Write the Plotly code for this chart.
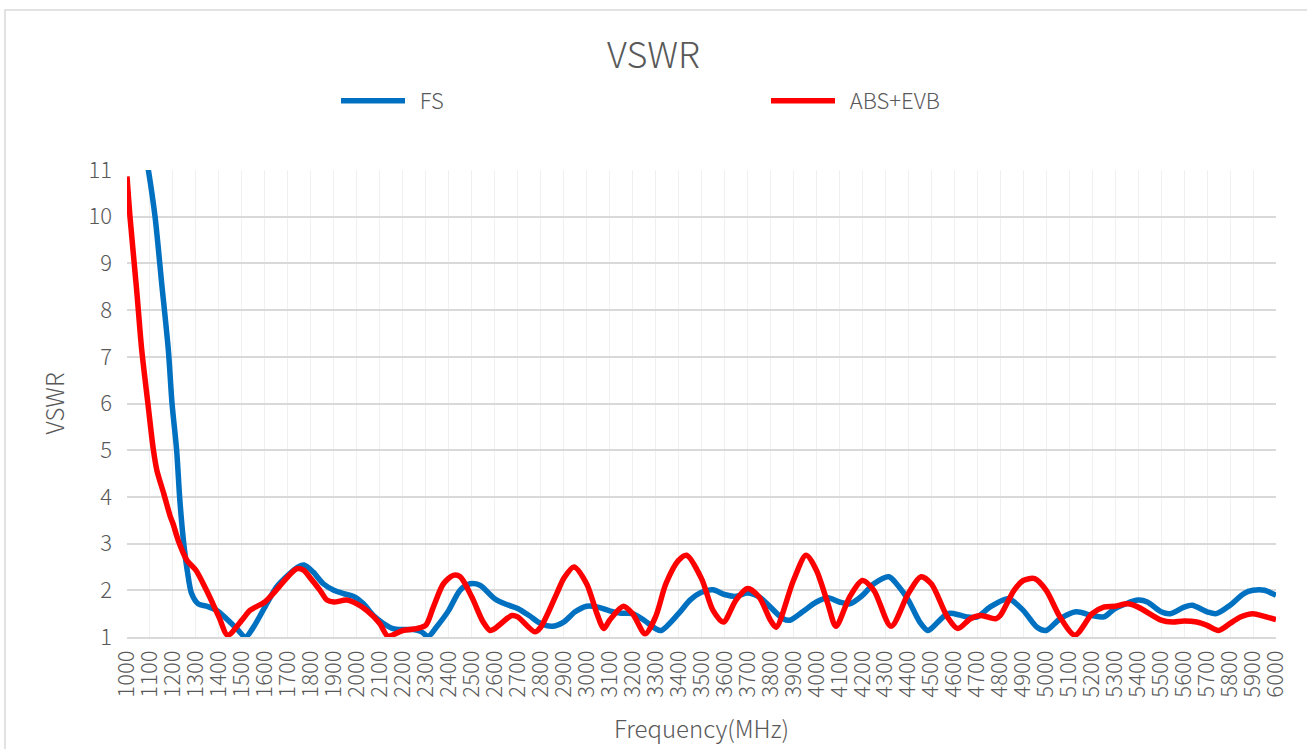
import plotly.graph_objects as go

# ---- data ----
fs_freq = [1000, 1050, 1093, 1122, 1151, 1180, 1196, 1216, 1230, 1247, 1262, 1281, 1310, 1346,
           1390, 1433, 1477, 1516, 1549, 1600, 1651, 1700, 1745, 1770, 1810, 1854, 1900, 1942,
           1986, 2029, 2072, 2116, 2158, 2200, 2246, 2282, 2310, 2346, 2400, 2449, 2493, 2536,
           2600, 2650, 2700, 2750, 2800, 2850, 2900, 2950, 3000, 3050, 3100, 3150, 3200, 3250,
           3300, 3325, 3400, 3450, 3500, 3550, 3600, 3650, 3700, 3750, 3800, 3855, 3885, 3940,
           4000, 4050, 4100, 4145, 4200, 4250, 4315, 4360, 4400, 4450, 4485, 4500, 4570, 4600,
           4655, 4700, 4755, 4835, 4900, 4960, 5000, 5060, 5130, 5200, 5250, 5300, 5400, 5440,
           5500, 5540, 5600, 5635, 5700, 5740, 5800, 5860, 5900, 5950, 6000]
fs_vswr = [13.3, 12.2, 11.0, 10.0, 8.57, 7.14, 6.0, 5.0, 3.93, 3.0, 2.43, 1.93, 1.71, 1.66,
           1.57, 1.39, 1.18, 1.0, 1.2, 1.64, 2.07, 2.32, 2.5, 2.54, 2.39, 2.14, 2.0, 1.93,
           1.87, 1.71, 1.46, 1.29, 1.18, 1.16, 1.16, 1.11, 1.01, 1.21, 1.57, 2.0, 2.14, 2.11,
           1.82, 1.7, 1.61, 1.46, 1.29, 1.23, 1.32, 1.54, 1.66, 1.64, 1.56, 1.51, 1.5, 1.36,
           1.18, 1.14, 1.5, 1.79, 1.96, 2.01, 1.91, 1.87, 1.94, 1.86, 1.64, 1.39, 1.36, 1.54,
           1.75, 1.84, 1.75, 1.71, 1.89, 2.14, 2.29, 2.07, 1.79, 1.32, 1.14, 1.18, 1.5, 1.5,
           1.43, 1.43, 1.64, 1.82, 1.57, 1.21, 1.14, 1.39, 1.54, 1.46, 1.43, 1.61, 1.79, 1.75,
           1.54, 1.5, 1.64, 1.68, 1.54, 1.5, 1.68, 1.93, 2.0, 2.0, 1.89]

abs_freq = [1000, 1013, 1042, 1064, 1091, 1115, 1130, 1160, 1189, 1200, 1225, 1261, 1300, 1346,
            1400, 1438, 1500, 1535, 1600, 1636, 1700, 1738, 1768, 1800, 1840, 1870, 1900, 1956,
            2000, 2043, 2100, 2135, 2200, 2260, 2300, 2333, 2377, 2420, 2450, 2500, 2550, 2580,
            2600, 2675, 2700, 2775, 2800, 2870, 2900, 2945, 3000, 3045, 3075, 3100, 3160, 3200,
            3255, 3300, 3345, 3400, 3435, 3500, 3550, 3595, 3650, 3700, 3750, 3800, 3825, 3900,
            3955, 4000, 4050, 4085, 4145, 4200, 4250, 4325, 4400, 4455, 4500, 4570, 4615, 4670,
            4715, 4780, 4800, 4860, 4900, 4950, 5000, 5060, 5125, 5200, 5250, 5300, 5355, 5400,
            5500, 5550, 5600, 5655, 5700, 5750, 5800, 5845, 5900, 5950, 6000]
abs_vswr = [10.86, 10.0, 8.43, 7.15, 6.0, 5.0, 4.57, 4.07, 3.57, 3.43, 3.04, 2.64, 2.43, 2.0,
            1.43, 1.04, 1.36, 1.57, 1.75, 1.93, 2.29, 2.46, 2.43, 2.25, 2.0, 1.79, 1.75, 1.79,
            1.71, 1.57, 1.29, 1.02, 1.14, 1.18, 1.25, 1.64, 2.14, 2.32, 2.29, 1.86, 1.32, 1.14,
            1.18, 1.46, 1.43, 1.11, 1.21, 1.93, 2.25, 2.5, 2.14, 1.5, 1.18, 1.36, 1.66, 1.5,
            1.07, 1.43, 2.14, 2.64, 2.75, 2.25, 1.57, 1.32, 1.79, 2.04, 1.86, 1.36, 1.21, 2.21,
            2.75, 2.43, 1.71, 1.23, 1.86, 2.21, 2.0, 1.23, 1.93, 2.29, 2.14, 1.43, 1.18, 1.39,
            1.46, 1.39, 1.46, 2.0, 2.21, 2.25, 2.0, 1.43, 1.04, 1.5, 1.64, 1.66, 1.71, 1.64,
            1.36, 1.32, 1.34, 1.32, 1.25, 1.14, 1.29, 1.43, 1.5, 1.44, 1.37]

series_names = ["\u00a0\u00a0FS", "\u00a0\u00a0ABS+EVB"]
x_ticks = list(range(1000, 6001, 100))
y_ticks = list(range(1, 12))

FONT = "Noto Sans CJK SC Light, Noto Sans CJK SC, sans-serif"
TXT = "#595959"

fig = go.Figure()
fig.add_trace(go.Scatter(x=fs_freq, y=fs_vswr, name=series_names[0], mode="lines",
                         line=dict(color="#0070C0", width=5.5, shape="spline", smoothing=0.8)))
fig.add_trace(go.Scatter(x=abs_freq, y=abs_vswr, name=series_names[1], mode="lines",
                         line=dict(color="#FF0000", width=5.5, shape="spline", smoothing=0.8)))

fig.update_layout(
    width=1307, height=749,
    margin=dict(l=127, r=31, t=170, b=112),
    paper_bgcolor="white", plot_bgcolor="white",
    font=dict(family=FONT, color=TXT, size=22, weight=300),
    title=dict(text="VSWR", x=0.5, xref="container", xanchor="center",
               y=1 - 55 / 749, yanchor="middle",
               font=dict(size=36, color=TXT, family=FONT, weight=300)),
    legend=dict(orientation="h", xref="container", yref="container",
                x=336 / 1307, xanchor="left", y=1 - 101 / 749, yanchor="middle",
                entrywidth=351, entrywidthmode="pixels", itemwidth=64,
                font=dict(size=22, color=TXT, family=FONT, weight=300),
                bgcolor="rgba(0,0,0,0)"),
    showlegend=True,
    shapes=[dict(type="rect", xref="paper", yref="paper",
                 x0=-0.1062, x1=1.05, y0=-0.27, y1=1.3426,
                 line=dict(color="#d9d9d9", width=1.5), layer="below")],
)

fig.update_xaxes(
    range=[1000, 6000], tickmode="array", tickvals=x_ticks,
    ticktext=[str(v) for v in x_ticks], tickangle=-90,
    showgrid=True, gridcolor="#f0f0f0", gridwidth=1.3,
    showline=True, linecolor="#d9d9d9", linewidth=1.5, zeroline=False,
    ticks="", ticklabelstandoff=3,
    tickfont=dict(size=22, color=TXT, family=FONT, weight=300),
    title=dict(text="Frequency(MHz)", standoff=25,
               font=dict(size=24, color=TXT, family=FONT, weight=300)),
    automargin=False,
)
fig.update_yaxes(
    range=[1, 11], tickmode="array", tickvals=y_ticks,
    showgrid=True, gridcolor="#d9d9d9", gridwidth=1.5,
    showline=False, zeroline=False,
    ticks="", ticklabelstandoff=14,
    tickfont=dict(size=22, color=TXT, family=FONT, weight=300),
    title=dict(text="VSWR", standoff=17,
               font=dict(size=24, color=TXT, family=FONT, weight=300)),
    automargin=False,
)

fig.write_html("out.html", config={"displayModeBar": False},
               post_script="document.body.style.margin='0';document.body.style.overflow='hidden';")
